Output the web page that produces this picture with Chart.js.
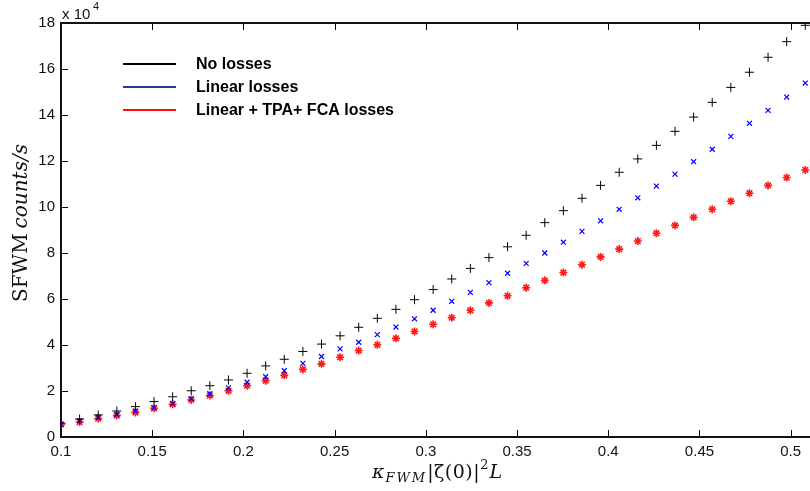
<!DOCTYPE html>
<html>
<head>
<meta charset="utf-8">
<script src="https://cdn.jsdelivr.net/npm/chart.js@4.4.1/dist/chart.umd.min.js"></script>
<style>
  html, body { margin:0; padding:0; background:#fff; overflow:hidden; }
  #wrap { width:810px; height:491px; overflow:hidden; position:relative; }
  canvas { display:block; }
</style>
</head>
<body>
<div id="wrap"><canvas id="c" width="824" height="491"></canvas></div>
<script>
// x = kappa_FWM |zeta(0)|^2 L
const xVals = [0.1, 0.1102, 0.1204, 0.1306, 0.1408, 0.151, 0.1612, 0.1714, 0.1816, 0.1918,
  0.202, 0.2122, 0.2224, 0.2326, 0.2428, 0.253, 0.2632, 0.2734, 0.2836, 0.2938,
  0.304, 0.3142, 0.3244, 0.3346, 0.3448, 0.355, 0.3652, 0.3754, 0.3856, 0.3958,
  0.406, 0.4162, 0.4264, 0.4366, 0.4468, 0.457, 0.4672, 0.4774, 0.4876, 0.4978, 0.508];

// SFWM counts/s, in units of 1e4
const noLosses = [0.60, 0.78, 0.96, 1.13, 1.32, 1.54, 1.75, 2.01, 2.23, 2.48,
  2.77, 3.09, 3.38, 3.72, 4.04, 4.40, 4.77, 5.16, 5.55, 5.97,
  6.41, 6.87, 7.33, 7.80, 8.27, 8.77, 9.32, 9.84, 10.38, 10.94,
  11.51, 12.09, 12.68, 13.29, 13.91, 14.55, 15.20, 15.86, 16.51, 17.19, 17.90];
const linearLosses = [0.55, 0.71, 0.86, 0.99, 1.13, 1.27, 1.46, 1.67, 1.88, 2.14,
  2.38, 2.62, 2.88, 3.20, 3.50, 3.83, 4.12, 4.45, 4.78, 5.14,
  5.51, 5.90, 6.29, 6.71, 7.12, 7.55, 8.00, 8.47, 8.94, 9.40,
  9.90, 10.40, 10.91, 11.43, 11.97, 12.51, 13.07, 13.64, 14.20, 14.78, 15.39];
const allLosses = [0.55, 0.65, 0.80, 0.93, 1.07, 1.25, 1.42, 1.61, 1.80, 2.01,
  2.23, 2.45, 2.68, 2.94, 3.18, 3.47, 3.76, 4.01, 4.29, 4.59,
  4.90, 5.19, 5.51, 5.83, 6.14, 6.49, 6.81, 7.15, 7.49, 7.83,
  8.17, 8.52, 8.86, 9.20, 9.55, 9.90, 10.25, 10.60, 10.94, 11.28, 11.61];

const xTicks = [0.1, 0.15, 0.2, 0.25, 0.3, 0.35, 0.4, 0.45, 0.5];
const yTicks = [0, 2, 4, 6, 8, 10, 12, 14, 16, 18];
const legendNames = ['No losses', 'Linear losses', 'Linear + TPA+ FCA losses'];
const legendColors = ['#000000', '#22409a', '#ff1010'];

const pts = arr => arr.map((y, i) => ({x: xVals[i], y}));
const tickFont = {family: "'Liberation Sans', Arial, sans-serif", size: 15};

// inward ticks, frame, legend, axis labels (MATLAB look)
const decor = {
  id: 'decor',
  afterDraw(chart) {
    const ctx = chart.ctx, a = chart.chartArea;
    const xs = chart.scales.x, ys = chart.scales.y;
    ctx.save();
    ctx.strokeStyle = '#000';
    ctx.lineWidth = 1;
    ctx.beginPath();
    xTicks.forEach(v => {
      const px = Math.round(xs.getPixelForValue(v)) + 0.5;
      ctx.moveTo(px, a.bottom); ctx.lineTo(px, a.bottom - 7);
      ctx.moveTo(px, a.top); ctx.lineTo(px, a.top + 7);
    });
    yTicks.forEach(v => {
      const py = Math.round(ys.getPixelForValue(v)) + 0.5;
      ctx.moveTo(a.left, py); ctx.lineTo(a.left + 7, py);
      ctx.moveTo(a.right, py); ctx.lineTo(a.right - 7, py);
    });
    ctx.stroke();
    ctx.lineWidth = 2;
    ctx.strokeStyle = '#111';
    ctx.strokeRect(a.left, a.top, a.right - a.left, a.bottom - a.top);

    // legend
    ctx.textBaseline = 'middle';
    ctx.font = "bold 16px 'Liberation Sans', Arial, sans-serif";
    legendNames.forEach((n, i) => {
      const y = 64 + i * 23;
      ctx.strokeStyle = legendColors[i];
      ctx.lineWidth = 2;
      ctx.beginPath(); ctx.moveTo(123, y); ctx.lineTo(176, y); ctx.stroke();
      ctx.fillStyle = '#000';
      ctx.fillText(n, 196, y + 1);
    });

    // exponent
    ctx.fillStyle = '#111';
    ctx.font = "15px 'Liberation Sans', Arial, sans-serif";
    ctx.textBaseline = 'alphabetic';
    ctx.fillText('x 10', 62, 19);
    ctx.font = "11px 'Liberation Sans', Arial, sans-serif";
    ctx.fillText('4', 93, 10);

    // x label
    const serif = "'DejaVu Serif', 'Liberation Serif', serif";
    let x = 372, base = 478;
    const put = (t, font, dy, gap) => {
      ctx.font = font;
      for (const ch of t) { ctx.fillText(ch, x, base + (dy || 0)); x += ctx.measureText(ch).width + (gap || 0); }
    };
    put('κ', 'italic 19px ' + serif, 0, 1);
    put('FWM', 'italic 13px ' + serif, 4, 2);
    put('|ζ(0)|', '19px ' + serif, 0, 0.5);
    put('2', '13px ' + serif, -9, 1);
    put('L', 'italic 19px ' + serif);

    // y label
    ctx.translate(27, 302);
    ctx.rotate(-Math.PI / 2);
    x = 0; base = 0;
    put('SFWM', '20px ' + serif, 0, 0);
    x += 5;
    put('counts/s', 'italic 20px ' + serif, 0, 0);
    ctx.restore();
  }
};

new Chart(document.getElementById('c'), {
  type: 'scatter',
  data: {
    datasets: [
      {label: legendNames[0], data: pts(noLosses), pointStyle: 'cross', pointRadius: 4.5, borderColor: '#000', backgroundColor: '#000', pointBorderWidth: 1},
      {label: legendNames[1], data: pts(linearLosses), pointStyle: 'crossRot', pointRadius: 3.5, borderColor: '#0000ff', backgroundColor: '#0000ff', pointBorderWidth: 1.2},
      {label: legendNames[2], data: pts(allLosses), pointStyle: 'star', pointRadius: 4, borderColor: '#ff1a1a', backgroundColor: '#ff1a1a', pointBorderWidth: 1.6}
    ]
  },
  options: {
    responsive: false,
    animation: false,
    layout: {padding: {top: 23, right: 0, left: 0, bottom: 0}},
    plugins: {legend: {display: false}, tooltip: {enabled: false}},
    scales: {
      x: {
        type: 'linear', min: 0.1, max: 0.5152,
        afterBuildTicks: s => { s.ticks = xTicks.map(v => ({value: v})); },
        afterFit: s => { s.height = 54; s.paddingLeft = 0; s.paddingRight = 0; },
        grid: {display: true, drawOnChartArea: false, drawTicks: false},
        border: {display: false},
        ticks: {color: '#111', font: tickFont, padding: 6, maxRotation: 0, autoSkip: false,
          callback: v => String(Math.round(v * 100) / 100)}
      },
      y: {
        min: 0, max: 18,
        afterBuildTicks: s => { s.ticks = yTicks.map(v => ({value: v})); },
        afterFit: s => { s.width = 61; s.paddingTop = 0; s.paddingBottom = 0; },
        grid: {display: true, drawOnChartArea: false, drawTicks: false},
        border: {display: false},
        ticks: {color: '#111', font: tickFont, padding: 6, autoSkip: false}
      }
    }
  },
  plugins: [decor]
});
</script>
</body>
</html>
